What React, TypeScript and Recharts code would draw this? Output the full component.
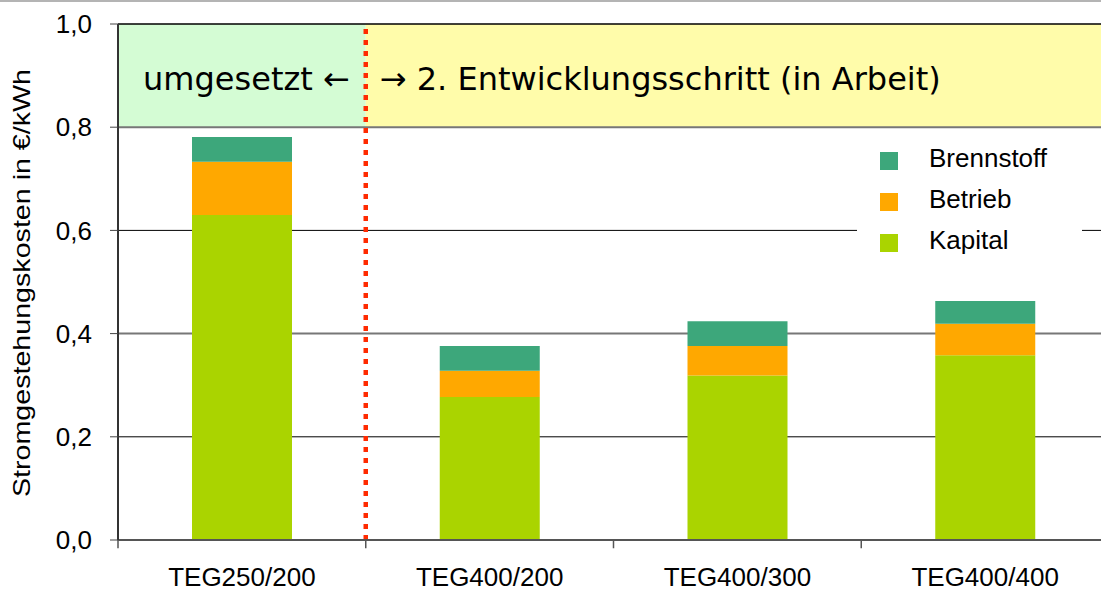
import React from "react";
import {
  BarChart,
  Bar,
  XAxis,
  YAxis,
  CartesianGrid,
  ReferenceArea,
  ReferenceLine,
  Legend,
  Label,
} from "recharts";

const categories = ["TEG250/200", "TEG400/200", "TEG400/300", "TEG400/400"];
const kapital = [0.63, 0.277, 0.319, 0.358];
const betrieb = [0.103, 0.051, 0.057, 0.061];
const brennstoff = [0.048, 0.048, 0.048, 0.044];
const yTicks = [0, 0.2, 0.4, 0.6, 0.8, 1.0];
const legendOrder = ["Brennstoff", "Betrieb", "Kapital"];
const bandLeftText = "umgesetzt ←";
const bandRightText = "→ 2. Entwicklungsschritt (in Arbeit)";
const yLabel = "Stromgestehungskosten in €/kWh";

const COLORS = {
  kapital: "#aad400",
  betrieb: "#ffa800",
  brennstoff: "#3da77b",
};

const sans = "'Liberation Sans', Arial, sans-serif";
const verdana = "'DejaVu Sans', Verdana, sans-serif";

const data = categories.map((name, i) => ({
  name,
  kapital: kapital[i],
  betrieb: betrieb[i],
  brennstoff: brennstoff[i],
}));

const fmt = (v: number) => v.toFixed(1).replace(".", ",");

// category boundaries for the small x-axis ticks: start of every band + end of the last one
const boundaryTicks = [
  ...categories.map((c) => ({ cat: c, pos: "start" as const })),
  { cat: categories[categories.length - 1], pos: "end" as const },
];

function renderLegend(props: any) {
  const items = [...(props.payload || [])].sort(
    (a: any, b: any) => legendOrder.indexOf(a.value) - legendOrder.indexOf(b.value)
  );
  return (
    <div style={{ position: "relative", width: 225, height: 125, background: "#fff" }}>
      {items.map((p: any, row: number) => (
        <div
          key={p.value}
          style={{
            position: "absolute",
            left: 23,
            top: 16 + row * 41,
            height: 18,
            display: "flex",
            alignItems: "center",
            whiteSpace: "nowrap",
          }}
        >
          <span style={{ display: "inline-block", width: 18, height: 18, background: p.color }} />
          <span
            style={{
              marginLeft: 31,
              fontFamily: sans,
              fontSize: 26,
              color: "#000",
              lineHeight: "18px",
              position: "relative",
              top: -3,
            }}
          >
            {p.value}
          </span>
        </div>
      ))}
    </div>
  );
}

function renderYLabel() {
  return (
    <text
      x={30}
      y={283}
      transform="rotate(-90 30 283)"
      textAnchor="middle"
      fontFamily={sans}
      fontSize={24}
      fill="#000"
      textLength={428}
      lengthAdjust="spacingAndGlyphs"
    >
      {yLabel}
    </text>
  );
}

export default function App() {
  return (
    <div
      style={{
        position: "absolute",
        left: 0,
        top: 0,
        width: 1101,
        height: 593,
        overflow: "hidden",
        background: "#fff",
      }}
    >
      <div style={{ position: "absolute", left: 0, top: 0, width: 1101, height: 2, background: "#b4b4b4" }} />
      <BarChart
        width={1109}
        height={593}
        data={data}
        margin={{ top: 24, right: 0, bottom: 0, left: 0 }}
      >
        <CartesianGrid vertical={false} horizontalValues={[0.2, 0.6]} stroke="#000" strokeWidth={1} />
        <CartesianGrid vertical={false} horizontalValues={[0.4]} stroke="#777" strokeWidth={2} />
        <XAxis
          dataKey="name"
          height={53}
          tickLine={false}
          tickSize={0}
          tickMargin={28}
          axisLine={{ stroke: "#555", strokeWidth: 2 }}
          tick={{ fill: "#000", fontSize: 26, fontFamily: sans }}
        />
        <YAxis
          width={118}
          domain={[0, 1]}
          ticks={yTicks}
          tickFormatter={fmt}
          tickSize={8}
          tickMargin={18}
          axisLine={{ stroke: "#333", strokeWidth: 2 }}
          tickLine={{ stroke: "#444" }}
          tick={{ fill: "#000", fontSize: 26, fontFamily: sans }}
        >
          <Label content={renderYLabel} />
        </YAxis>
        <ReferenceArea
          x1={categories[0]}
          x2={categories[0]}
          y1={0.8}
          y2={1}
          fill="#d4fcd4"
          fillOpacity={1}
          label={{
            value: bandLeftText,
            position: "insideRight",
            offset: 16,
            dy: 3,
            fontSize: 32,
            fontFamily: verdana,
            fill: "#000",
          }}
        />
        <ReferenceArea
          x1={categories[1]}
          x2={categories[3]}
          y1={0.8}
          y2={1}
          fill="#fffcaa"
          fillOpacity={1}
          label={{
            value: bandRightText,
            position: "insideLeft",
            offset: 14,
            dy: 3,
            fontSize: 32,
            fontFamily: verdana,
            fill: "#000",
          }}
        />
        <ReferenceLine y={0.8} stroke="#777" strokeWidth={2} />
        <ReferenceLine y={1} stroke="#000" strokeWidth={1.5} />
        {boundaryTicks.map((b, i) => (
          <ReferenceLine
            key={i}
            ifOverflow="visible"
            position={b.pos}
            segment={[
              { x: b.cat, y: 0 },
              { x: b.cat, y: -0.016 },
            ]}
            stroke="#555"
            strokeWidth={1.5}
          />
        ))}
        <ReferenceLine
          x={categories[1]}
          position="start"
          stroke="#ff2a00"
          strokeWidth={4.5}
          strokeDasharray="5 6"
        />
        <Bar dataKey="kapital" name="Kapital" stackId="a" fill={COLORS.kapital} barSize={100} isAnimationActive={false} />
        <Bar dataKey="betrieb" name="Betrieb" stackId="a" fill={COLORS.betrieb} barSize={100} isAnimationActive={false} />
        <Bar dataKey="brennstoff" name="Brennstoff" stackId="a" fill={COLORS.brennstoff} barSize={100} isAnimationActive={false} />
        <Legend
          layout="horizontal"
          verticalAlign="middle"
          align="center"
          content={renderLegend}
          wrapperStyle={{ left: 857, top: 136, width: 225, height: 125 }}
        />
      </BarChart>
    </div>
  );
}
